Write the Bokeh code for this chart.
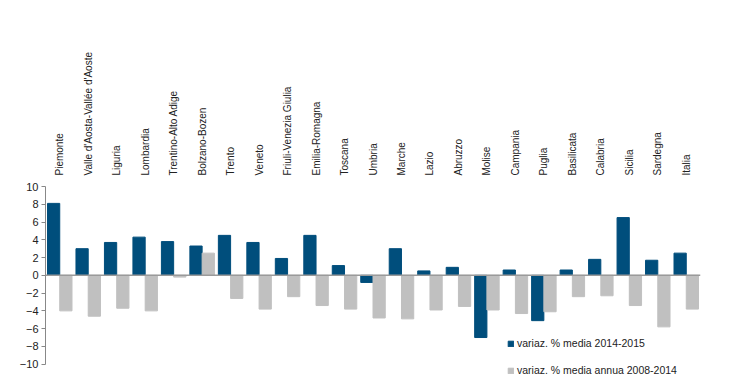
from bokeh.plotting import figure
from bokeh.models import (FactorRange, FixedTicker, Span, Legend, LegendItem,
                          ColumnDataSource)
from bokeh.transform import dodge
from bokeh.embed import file_html
from bokeh.resources import INLINE

regions = ["Piemonte", "Valle d'Aosta-Vallée d'Aoste", "Liguria", "Lombardia",
           "Trentino-Alto Adige", "Bolzano-Bozen", "Trento", "Veneto",
           "Friuli-Venezia Giulia", "Emilia-Romagna", "Toscana", "Umbria",
           "Marche", "Lazio", "Abruzzo", "Molise", "Campania", "Puglia",
           "Basilicata", "Calabria", "Sicilia", "Sardegna", "Italia"]
var_2014_2015 = [8.1, 3.0, 3.7, 4.3, 3.8, 3.3, 4.5, 3.7, 1.9, 4.5, 1.1, -0.8,
                 3.0, 0.5, 0.9, -7.0, 0.6, -5.1, 0.6, 1.8, 6.5, 1.7, 2.5]
var_2008_2014 = [-4.0, -4.6, -3.7, -4.0, -0.2, 2.5, -2.6, -3.8, -2.4, -3.4, -3.8,
                 -4.8, -4.9, -3.9, -3.5, -3.9, -4.3, -4.1, -2.4, -2.3, -3.4, -5.8, -3.8]
y_ticks = [-10, -8, -6, -4, -2, 0, 2, 4, 6, 8, 10]
series_labels = ["variaz. % media 2014-2015", "variaz. % media annua 2008-2014"]

BLUE = "#004E7C"
GREY = "#C0C0C0"
FONT = "Liberation Sans"

src = ColumnDataSource(dict(region=regions, a=var_2014_2015, b=var_2008_2014))

p = figure(width=732, height=385, x_range=FactorRange(factors=regions, range_padding=0),
           y_range=(-11.5, 10), x_axis_location="above",
           output_backend="svg", toolbar_location=None,
           min_border_left=45, min_border_top=186, min_border_right=32,
           min_border_bottom=8)
p.outline_line_color = None
p.xgrid.grid_line_color = None
p.ygrid.grid_line_color = None

r1 = p.vbar(x=dodge("region", -0.215, range=p.x_range), top="a", width=0.43,
            source=src, fill_color=BLUE, line_color=BLUE)
r2 = p.vbar(x=dodge("region", 0.215, range=p.x_range), top="b", width=0.43,
            source=src, fill_color=GREY, line_color=GREY)

p.add_layout(Span(location=0, dimension="width", line_color="#9a9a9a", line_width=1.5))

xa = p.xaxis[0]
xa.major_label_orientation = "vertical"
xa.axis_line_color = None
xa.major_tick_line_color = None
xa.minor_tick_line_color = None
xa.major_label_standoff = 5
xa.major_label_text_font = FONT
xa.major_label_text_font_size = "10px"
xa.major_label_text_color = "#222222"

ya = p.yaxis[0]
ya.ticker = FixedTicker(ticks=y_ticks)
ya.bounds = (-10, 10)
ya.axis_line_color = "#888888"
ya.major_tick_line_color = "#888888"
ya.major_tick_out = 4
ya.major_tick_in = 0
ya.minor_tick_line_color = None
ya.major_label_standoff = 3
ya.major_label_text_font = FONT
ya.major_label_text_font_size = "11px"
ya.major_label_text_color = "#222222"

legend = Legend(items=[LegendItem(label=series_labels[0], renderers=[r1]),
                       LegendItem(label=series_labels[1], renderers=[r2])],
                location=(462, 0), glyph_width=7, glyph_height=7,
                label_height=14, spacing=13, padding=0, margin=0,
                label_standoff=3, border_line_color=None,
                background_fill_alpha=0, label_text_font=FONT,
                label_text_font_size="10.5px", label_text_color="#222222")
p.add_layout(legend)

open("out.html", "w").write(file_html(p, INLINE))
